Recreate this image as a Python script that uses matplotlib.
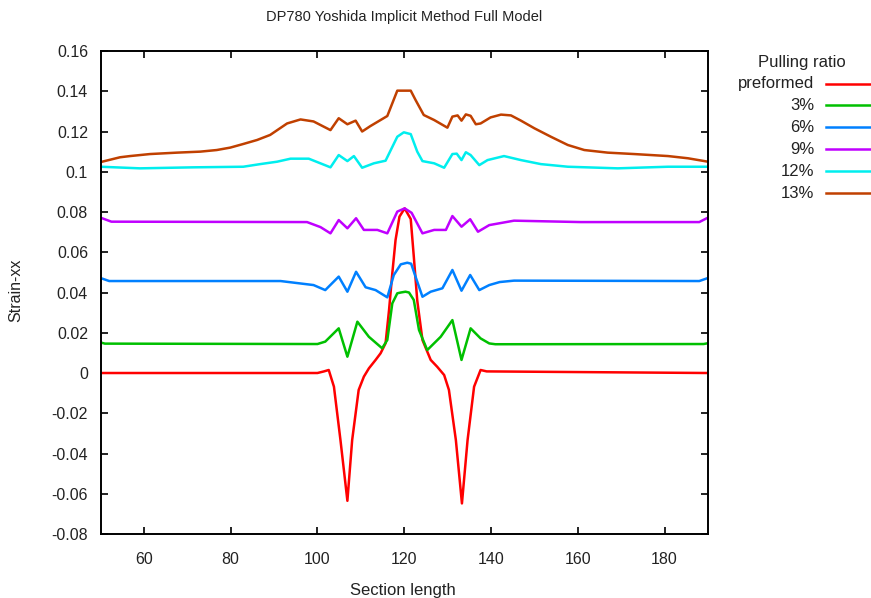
import matplotlib
matplotlib.use("Agg")
import matplotlib.pyplot as plt
from matplotlib.lines import Line2D
from matplotlib.ticker import FuncFormatter, MultipleLocator

plt.rcParams['font.family'] = ['Liberation Sans', 'DejaVu Sans']

# series
x_pre = [50, 100, 101.5, 102.6, 103.8, 105.3, 106.9, 108.0, 109.5, 110.7, 111.85, 113.4, 114.55,
         115.7, 116.5, 117.25, 118.0, 118.9, 120.1, 121.5, 122.2, 123.0, 124.2, 126.1, 127.6,
         129.2, 130.3, 131.9, 133.3, 134.6, 136.1, 137.6, 139.0, 190]
y_pre = [0, 0, 0.0008, 0.0015, -0.0068, -0.0333, -0.0635, -0.0333, -0.0084, -0.0018, 0.0023,
         0.0065, 0.0098, 0.0148, 0.0313, 0.0495, 0.0661, 0.0777, 0.0818, 0.0765, 0.058, 0.036,
         0.0164, 0.0065, 0.0031, -0.001, -0.0084, -0.0333, -0.0648, -0.0333, -0.0068, 0.0015,
         0.0008, 0]

x_3 = [50, 51, 100, 101.8, 104.9, 106.9, 109.2, 111.85, 114.9, 116.1, 117.25, 118.4, 119.2,
       120.3, 121.1, 122.2, 123.4, 125.3, 128.4, 131.1, 133.2, 135.3, 137.6, 139.6, 141, 189, 190]
y_3 = [0.0152, 0.0146, 0.0144, 0.0156, 0.0222, 0.0081, 0.0255, 0.018, 0.0123, 0.0164, 0.0346,
       0.0396, 0.04, 0.0404, 0.04, 0.0363, 0.0214, 0.0114, 0.018, 0.0263, 0.0065, 0.0222,
       0.0172, 0.0147, 0.0143, 0.0144, 0.0148]

x_6 = [50, 52, 91.5, 99.1, 101.8, 104.9, 106.9, 108.9, 111.1, 113.4, 116.1, 117.6, 119.2, 120.7,
       121.6, 122.6, 124.2, 126.1, 128.8, 131.1, 133.2, 135.2, 137.3, 139.6, 142, 145.3, 188, 190]
y_6 = [0.0472, 0.0457, 0.0457, 0.0437, 0.0412, 0.0479, 0.0404, 0.0503, 0.0426, 0.0412, 0.0376,
       0.0487, 0.054, 0.0548, 0.0543, 0.0479, 0.0379, 0.0404, 0.0421, 0.0512, 0.0409, 0.0487,
       0.0412, 0.0437, 0.0452, 0.0459, 0.0457, 0.0472]

x_9 = [50, 52.5, 97.6, 100.7, 103.0, 104.9, 106.9, 108.9, 110.7, 113.8, 116.1, 118.4, 120.1,
       121.7, 124.2, 126.9, 129.6, 131.1, 133.2, 135.2, 137.0, 139.6, 145.3, 160.7, 188, 190]
y_9 = [0.0772, 0.0752, 0.075, 0.0725, 0.0694, 0.076, 0.0719, 0.0769, 0.0711, 0.0711, 0.0694,
       0.0802, 0.0818, 0.0796, 0.0694, 0.0711, 0.0711, 0.078, 0.0727, 0.0764, 0.0702, 0.0735,
       0.0757, 0.075, 0.075, 0.0772]

x_12 = [50, 59.1, 71.4, 82.9, 86.8, 90.7, 93.8, 98.0, 103.0, 104.9, 106.9, 108.4, 110.3, 113.0,
        115.7, 118.4, 119.9, 121.5, 123.0, 124.2, 126.9, 129.2, 131.1, 132.1, 133.2, 134.2,
        135.3, 137.3, 139.2, 143.0, 146.9, 151.5, 157.7, 169.2, 180.8, 190]
y_12 = [0.1025, 0.1017, 0.1022, 0.1025, 0.1038, 0.105, 0.1065, 0.1065, 0.1022, 0.1083, 0.1053,
        0.1078, 0.102, 0.1042, 0.1055, 0.1174, 0.1196, 0.1187, 0.110, 0.1053, 0.1042, 0.102,
        0.1088, 0.109, 0.1058, 0.1097, 0.1083, 0.1033, 0.1058, 0.1078, 0.1058, 0.1038, 0.1025,
        0.1017, 0.1025, 0.1025]

x_13 = [50, 54.5, 56.8, 61.4, 67.6, 73.0, 76.8, 79.9, 82.9, 86.1, 89.1, 93.0, 96.1, 99.1, 103.0,
        104.9, 106.9, 108.8, 110.3, 112.2, 116.1, 118.4, 121.5, 122.6, 124.5, 126.9, 129.95,
        131.1, 132.3, 133.2, 134.2, 135.3, 136.5, 137.6, 139.9, 142.3, 144.6, 146.9, 150.0,
        153.8, 157.7, 161.5, 166.9, 173.0, 180.8, 185.4, 190]
y_13 = [0.1048, 0.1072, 0.1078, 0.1088, 0.1095, 0.110, 0.1108, 0.112, 0.1138, 0.1158, 0.1183,
        0.124, 0.126, 0.125, 0.1207, 0.1266, 0.1236, 0.1254, 0.120, 0.1227, 0.1277, 0.1403,
        0.1403, 0.1357, 0.1282, 0.1257, 0.1219, 0.1274, 0.128, 0.1254, 0.1285, 0.1278, 0.1236,
        0.124, 0.127, 0.1284, 0.128, 0.1254, 0.1216, 0.1174, 0.1133, 0.1108, 0.1095, 0.1088,
        0.1078, 0.1067, 0.105]

labels = ["preformed", "3%", "6%", "9%", "12%", "13%"]
colors = ["#ff0000", "#00c000", "#0080ff", "#c000ff", "#00eeee", "#c04000"]
xs = [x_pre, x_3, x_6, x_9, x_12, x_13]
ys = [y_pre, y_3, y_6, y_9, y_12, y_13]

fig = plt.figure(figsize=(8.71, 5.98), dpi=100)
ax = fig.add_axes([0.1154, 0.107, 0.6974, 0.8077])

for x, y, c in zip(xs, ys, colors):
    ax.plot(x, y, color=c, lw=1.8)

ax.set_xlim(50, 190)
ax.set_ylim(-0.08, 0.16)
ax.xaxis.set_major_locator(MultipleLocator(20))
ax.yaxis.set_major_locator(MultipleLocator(0.02))
ax.yaxis.set_major_formatter(FuncFormatter(lambda v, p: "%g" % round(v, 4)))
ax.xaxis.set_major_formatter(FuncFormatter(lambda v, p: "%g" % v))
ax.tick_params(direction="in", top=True, right=True, length=5, width=1.4,
               labelsize=11.5, colors="#222222", pad=9)
ax.tick_params(axis="x", pad=13)
for s in ax.spines.values():
    s.set_linewidth(1.4)

fig.text(0.464, 0.971, "DP780 Yoshida Implicit Method Full Model", ha="center", va="center",
         fontsize=10.5, color="#222222")
fig.text(0.462, 0.012, "Section length", ha="center", va="center", fontsize=12, color="#222222")
fig.text(0.018, 0.515, "Strain-xx", ha="center", va="center", rotation=90, fontsize=11.5,
         color="#222222")

# legend on the right, labels right-aligned, samples after them
W, H = 871.0, 598.0
fig.text(802 / W, 1 - 63 / H, "Pulling ratio", ha="center", va="center", fontsize=12,
         color="#222222")
for i, (lab, c) in enumerate(zip(labels, colors)):
    yy = 1 - (83.5 + 21.95 * i) / H
    fig.text(814 / W, yy, lab, ha="right", va="center", fontsize=12, color="#222222")
    fig.add_artist(Line2D([826 / W, 1.0], [yy, yy], color=c, lw=1.8))

fig.savefig("out.png", dpi=100)
